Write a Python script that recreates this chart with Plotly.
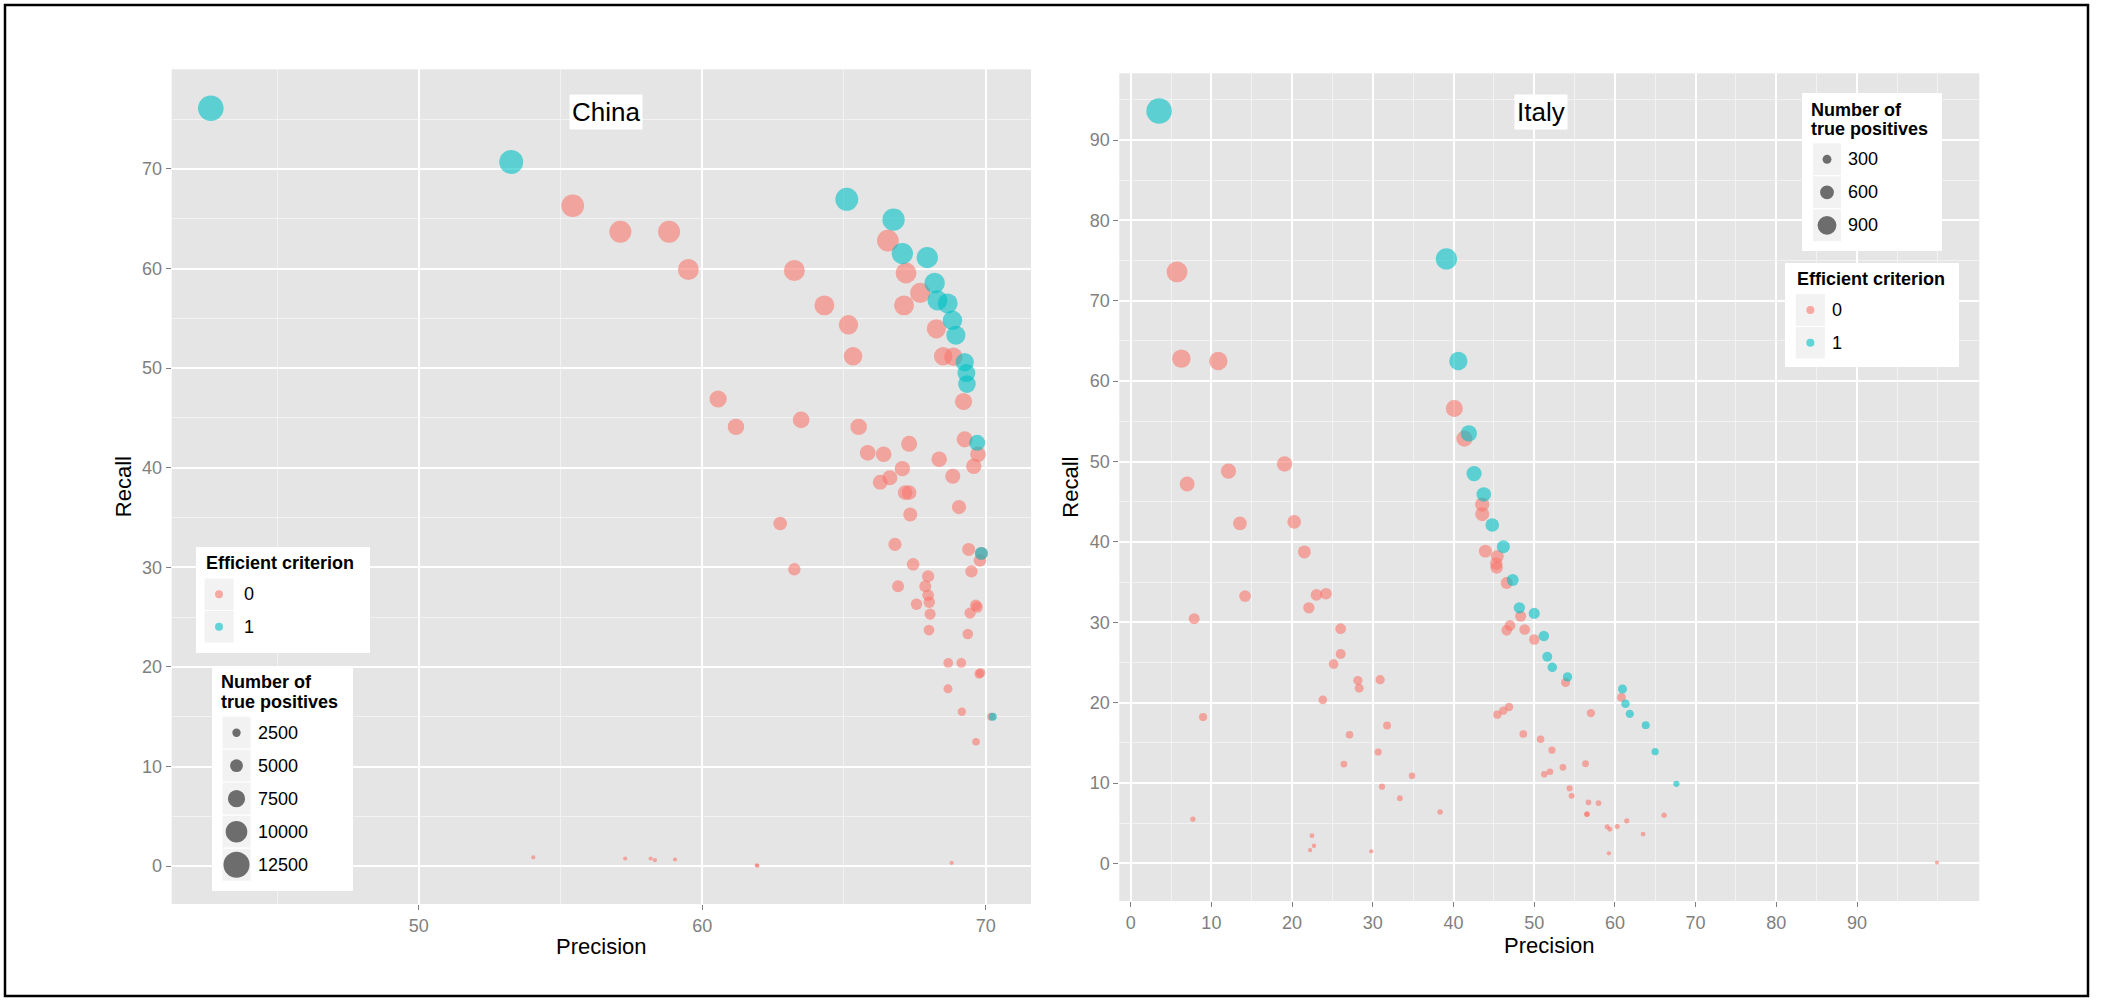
import plotly.graph_objects as go

# ---------------- data ----------------
# China, Efficient criterion = 0
china_red_precision = [55.43, 57.11, 58.83, 59.51, 63.25, 66.55, 67.19, 67.69, 67.12, 64.31,
                       65.16, 68.26, 65.32, 68.50, 68.86, 69.22, 60.56, 61.19, 63.49, 65.52,
                       69.26, 69.73, 67.30, 65.84, 66.40, 68.36, 69.58, 67.06, 68.84, 66.62,
                       66.28, 67.16, 67.30, 69.06, 67.34, 62.75, 66.80, 69.40, 69.80, 69.85,
                       63.25, 67.44, 69.50, 67.97, 66.91, 67.87, 67.97, 68.01, 67.56, 69.65,
                       69.70, 69.45, 68.04, 68.00, 69.37, 68.68, 69.14, 69.77, 69.82, 68.67,
                       69.16, 70.20, 69.66, 54.04, 57.28, 58.18, 58.33, 59.04, 61.92, 61.95,
                       68.80]
china_red_recall = [66.3, 63.7, 63.7, 59.9, 59.8, 62.8, 59.55, 57.55, 56.3, 56.3,
                    54.35, 53.95, 51.2, 51.2, 51.15, 46.65, 46.9, 44.1, 44.8, 44.1,
                    42.85, 41.35, 42.4, 41.5, 41.35, 40.85, 40.15, 39.9, 39.15, 39.0,
                    38.55, 37.5, 37.5, 36.05, 35.3, 34.4, 32.3, 31.8, 30.7, 31.4,
                    29.8, 30.3, 29.6, 29.1, 28.1, 28.1, 27.2, 26.5, 26.3, 26.2,
                    26.0, 25.4, 25.3, 23.7, 23.3, 20.4, 20.4, 19.3, 19.4, 17.8,
                    15.5, 15.0, 12.5, 0.87, 0.77, 0.77, 0.6, 0.67, 0.1, 0.05,
                    0.33]
china_red_tp = [10610, 10190, 10190, 9580, 9570, 10050, 9530, 9210, 9010, 9010,
                8700, 8630, 8190, 8190, 8180, 7460, 7500, 7060, 7170, 7060,
                6860, 6620, 6780, 6640, 6620, 6540, 6420, 6380, 6260, 6240,
                6170, 6000, 6000, 5770, 5650, 5500, 5170, 5090, 4910, 5020,
                4770, 4850, 4740, 4660, 4500, 4500, 4350, 4240, 4210, 4190,
                4160, 4060, 4050, 3790, 3730, 3260, 3260, 3090, 3100, 2850,
                2480, 2400, 2000, 140, 120, 120, 100, 110, 20, 10,
                50]
# China, Efficient criterion = 1
china_blue_precision = [42.66, 53.26, 65.10, 66.75, 67.06, 67.94, 68.20, 68.30, 68.66, 68.83,
                        68.95, 69.26, 69.32, 69.34, 69.70, 69.85, 70.25]
china_blue_recall = [76.1, 70.7, 66.95, 64.9, 61.5, 61.1, 58.55, 56.8, 56.5, 54.8,
                     53.3, 50.6, 49.5, 48.4, 42.5, 31.4, 15.0]
china_blue_tp = [12180, 11310, 10710, 10380, 9840, 9780, 9370, 9090, 9040, 8770,
                 8530, 8100, 7920, 7740, 6800, 5020, 2400]

# Italy, Efficient criterion = 0
italy_red_precision = [5.74, 6.28, 10.86, 40.10, 41.35, 19.07, 12.12, 7.00, 43.56, 43.56,
                       13.54, 20.26, 21.52, 43.95, 45.43, 45.30, 45.35, 46.59, 14.17, 23.02,
                       24.20, 22.08, 7.87, 48.32, 47.00, 46.59, 48.82, 50.01, 26.02, 26.02,
                       25.15, 53.89, 28.15, 28.31, 30.91, 23.81, 60.81, 57.02, 45.43, 46.17,
                       46.88, 8.97, 31.77, 27.12, 48.65, 50.79, 52.20, 30.67, 26.42, 56.36,
                       53.56, 51.25, 51.95, 34.86, 31.14, 54.38, 54.63, 33.36, 56.73, 57.97,
                       38.34, 56.52, 56.55, 66.09, 7.71, 61.47, 60.28, 59.04, 59.37, 63.49,
                       22.46, 22.71, 22.23, 29.81, 59.25, 99.90]
italy_red_recall = [73.6, 62.8, 62.5, 56.6, 52.85, 49.7, 48.8, 47.2, 44.65, 43.45,
                    42.3, 42.5, 38.75, 38.85, 38.2, 37.3, 36.8, 34.9, 33.25, 33.4,
                    33.55, 31.8, 30.45, 30.75, 29.6, 29.0, 29.1, 27.85, 29.2, 26.05,
                    24.8, 22.5, 22.75, 21.8, 22.85, 20.35, 20.65, 18.7, 18.5, 19.0,
                    19.45, 18.2, 17.15, 16.0, 16.1, 15.45, 14.1, 13.85, 12.35, 12.4,
                    11.95, 11.1, 11.4, 10.9, 9.55, 9.35, 8.4, 8.1, 7.6, 7.5,
                    6.4, 6.1, 6.15, 6.0, 5.5, 5.3, 4.6, 4.55, 4.25, 3.65,
                    3.45, 2.2, 1.65, 1.5, 1.25, 0.1]
italy_red_tp = [1030, 879, 875, 792, 740, 696, 683, 661, 625, 608,
                592, 595, 543, 544, 535, 522, 515, 489, 466, 468,
                470, 445, 426, 431, 414, 406, 407, 390, 409, 365,
                347, 315, 319, 305, 320, 285, 289, 262, 259, 266,
                272, 255, 240, 224, 225, 216, 197, 194, 173, 174,
                167, 155, 160, 153, 134, 131, 118, 113, 106, 105,
                90, 85, 86, 84, 77, 74, 64, 64, 60, 51,
                48, 31, 23, 21, 18, 1]
# Italy, Efficient criterion = 1
italy_blue_precision = [3.52, 39.12, 40.60, 41.90, 42.55, 43.75, 44.80, 46.18, 47.33, 48.16,
                        50.00, 51.20, 51.62, 52.24, 54.13, 60.94, 61.31, 61.84, 63.82, 64.98,
                        67.62]
italy_blue_recall = [93.6, 75.2, 62.5, 53.5, 48.5, 45.9, 42.1, 39.4, 35.25, 31.8,
                     31.1, 28.3, 25.7, 24.4, 23.2, 21.7, 19.86, 18.6, 17.2, 13.9,
                     9.9]
italy_blue_tp = [1310, 1053, 875, 749, 679, 643, 589, 552, 494, 445,
                 435, 396, 360, 342, 325, 304, 278, 260, 241, 195,
                 139]

china_x_ticks = [50, 60, 70]
china_x_minor = [45, 55, 65]
china_y_ticks = [0, 10, 20, 30, 40, 50, 60, 70]
china_y_minor = [5, 15, 25, 35, 45, 55, 65, 75]
italy_x_ticks = [0, 10, 20, 30, 40, 50, 60, 70, 80, 90]
italy_x_minor = [5, 15, 25, 35, 45, 55, 65, 75, 85, 95, 100]
italy_y_ticks = [0, 10, 20, 30, 40, 50, 60, 70, 80, 90]
italy_y_minor = [5, 15, 25, 35, 45, 55, 65, 75, 85, 95]

criterion_labels = ["0", "1"]
china_size_breaks = [2500, 5000, 7500, 10000, 12500]
italy_size_breaks = [300, 600, 900]

# ---------------- style ----------------
W, H = 2102, 1000
FONT = "Liberation Sans, Arial, Helvetica, sans-serif"
RED = "#F8766D"
BLUE = "#00BFC4"
ALPHA = 0.6
SIZE_MIN, SIZE_MAX = 4.0, 25.5


def fx(px):
    return px / W


def fy(py):
    return 1 - py / H


def size_scale(values, lo, hi):
    return [SIZE_MIN + (SIZE_MAX - SIZE_MIN) * (v - lo) / (hi - lo) for v in values]


china_lo = min(china_red_tp + china_blue_tp)
china_hi = max(china_red_tp + china_blue_tp)
italy_lo = min(italy_red_tp + italy_blue_tp)
italy_hi = max(italy_red_tp + italy_blue_tp)

fig = go.Figure()


def add_points(xs, ys, tps, lo, hi, color, name, xa, ya):
    fig.add_trace(go.Scatter(
        x=xs, y=ys, mode="markers", name=name, showlegend=False,
        xaxis=xa, yaxis=ya,
        marker=dict(color=color, opacity=ALPHA, size=size_scale(tps, lo, hi),
                    sizemode="diameter", line=dict(width=0)),
        customdata=tps,
        hovertemplate="Precision %{x}<br>Recall %{y}<br>TP %{customdata}<extra></extra>",
    ))


add_points(china_red_precision, china_red_recall, china_red_tp, china_lo, china_hi, RED, "0", "x", "y")
add_points(china_blue_precision, china_blue_recall, china_blue_tp, china_lo, china_hi, BLUE, "1", "x", "y")
add_points(italy_red_precision, italy_red_recall, italy_red_tp, italy_lo, italy_hi, RED, "0", "x2", "y2")
add_points(italy_blue_precision, italy_blue_recall, italy_blue_tp, italy_lo, italy_hi, BLUE, "1", "x2", "y2")

tickfont = dict(family=FONT, size=18, color="#7F7F7F")
titlefont = dict(family=FONT, size=22, color="#000000")


def axis(domain, rng, ticks, minor, title, standoff):
    return dict(
        domain=domain, range=rng, tickmode="array", tickvals=ticks,
        ticktext=[str(t) for t in ticks],
        showgrid=True, gridcolor="#FFFFFF", gridwidth=2,
        zeroline=False, showline=False,
        ticks="outside", ticklen=5, tickwidth=1.2, tickcolor="#7F7F7F",
        tickfont=tickfont,
        minor=dict(tickmode="array", tickvals=minor, showgrid=True,
                   gridcolor="#F2F2F2", gridwidth=1, ticks=""),
        title=dict(text=title, font=titlefont, standoff=standoff),
        fixedrange=True,
    )


fig.update_layout(
    width=W, height=H,
    margin=dict(l=0, r=0, t=0, b=0, autoexpand=False),
    paper_bgcolor="#FFFFFF", plot_bgcolor="#E5E5E5",
    font=dict(family=FONT),
    showlegend=False,
    xaxis=axis([fx(171.7), fx(1031)], [41.28, 71.6], china_x_ticks, china_x_minor, "Precision", 4),
    yaxis=axis([fy(904), fy(69.3)], [-3.8, 80.0], china_y_ticks, china_y_minor, "Recall", 4),
    xaxis2=axis([fx(1119.3), fx(1979.3)], [-1.41, 105.15], italy_x_ticks, italy_x_minor, "Precision", 4),
    yaxis2=axis([fy(901), fy(73.3)], [-4.68, 98.3], italy_y_ticks, italy_y_minor, "Recall", 4),
)
fig.layout.xaxis.anchor = "y"
fig.layout.yaxis.anchor = "x"
fig.layout.xaxis2.anchor = "y2"
fig.layout.yaxis2.anchor = "x2"

shapes = []
annotations = []

# outer frame
shapes.append(dict(type="rect", xref="paper", yref="paper",
                   x0=fx(5), x1=fx(2088), y0=fy(996), y1=fy(5),
                   line=dict(color="#000000", width=2.5), fillcolor="rgba(0,0,0,0)"))


def rect(x0, y0, x1, y1, fill, line_color=None, lw=0):
    shapes.append(dict(type="rect", xref="paper", yref="paper",
                       x0=fx(x0), x1=fx(x1), y0=fy(y1), y1=fy(y0),
                       fillcolor=fill, line=dict(color=line_color or fill, width=lw),
                       layer="above"))


def circle(cx, cy, d, fill):
    r = d / 2
    shapes.append(dict(type="circle", xref="paper", yref="paper",
                       xsizemode="pixel", ysizemode="pixel",
                       xanchor=fx(cx), yanchor=fy(cy),
                       x0=-r, x1=r, y0=-r, y1=r,
                       fillcolor=fill, line=dict(width=0), layer="above"))


def text(x, y, s, size=18, bold=False, color="#000000", xanchor="left", bg=None, pad=0):
    a = dict(xref="paper", yref="paper", x=fx(x), y=fy(y), showarrow=False,
             text=f"<b>{s}</b>" if bold else s, xanchor=xanchor, yanchor="middle",
             font=dict(family=FONT, size=size, color=color))
    if bg:
        a.update(bgcolor=bg, borderpad=pad)
    annotations.append(a)


def rgba(hexcol, a):
    h = hexcol.lstrip("#")
    return f"rgba({int(h[0:2], 16)},{int(h[2:4], 16)},{int(h[4:6], 16)},{a})"


def color_legend(box, title_xy, key_x, key_y0, key_h, label_x):
    x0, y0, x1, y1 = box
    rect(x0, y0, x1, y1, "#FFFFFF")
    text(title_xy[0], title_xy[1], "Efficient criterion", bold=True)
    for i, (lab, col) in enumerate(zip(criterion_labels, [RED, BLUE])):
        ky0 = key_y0 + i * key_h
        rect(key_x[0], ky0, key_x[1], ky0 + key_h, "#F2F2F2", "#FFFFFF", 1)
        circle((key_x[0] + key_x[1]) / 2, ky0 + key_h / 2, 8, rgba(col, ALPHA))
        text(label_x, ky0 + key_h / 2, lab)


def size_legend(box, title_x, title_ys, key_x, key_y0, key_h, label_x, breaks, lo, hi):
    x0, y0, x1, y1 = box
    rect(x0, y0, x1, y1, "#FFFFFF")
    text(title_x, title_ys[0], "Number of", bold=True)
    text(title_x, title_ys[1], "true positives", bold=True)
    sizes = size_scale(breaks, lo, hi)
    for i, (b, d) in enumerate(zip(breaks, sizes)):
        ky0 = key_y0 + i * key_h
        rect(key_x[0], ky0, key_x[1], ky0 + key_h, "#F2F2F2", "#FFFFFF", 1)
        circle((key_x[0] + key_x[1]) / 2, ky0 + key_h / 2, d, "rgba(0,0,0,0.55)")
        text(label_x, ky0 + key_h / 2, str(b))


# China legends
color_legend((196, 547, 370, 653), (203.5, 563.3), (204, 234), 578, 32.5, 242)
size_legend((212, 667, 353, 891), 219, (681.7, 701.7), (222, 251), 716.2, 33, 256,
            china_size_breaks, china_lo, china_hi)
# Italy legends
size_legend((1802, 93, 1942, 251), 1809, (110, 129.5), (1812.5, 1841.5), 142.8, 33, 1846,
            italy_size_breaks, italy_lo, italy_hi)
color_legend((1785, 263, 1959, 367), (1794.5, 279.3), (1795.3, 1825.4), 293.7, 32.7, 1830)

# panel labels
text(606, 111.5, "China", size=26, xanchor="center", bg="#FFFFFF", pad=2)
text(1541, 112, "Italy", size=26, xanchor="center", bg="#FFFFFF", pad=2)

fig.update_layout(shapes=shapes, annotations=annotations)

fig.write_html(
    "out.html",
    config={"displayModeBar": False},
    post_script="document.body.style.margin='0px';document.body.style.overflow='hidden';",
)
